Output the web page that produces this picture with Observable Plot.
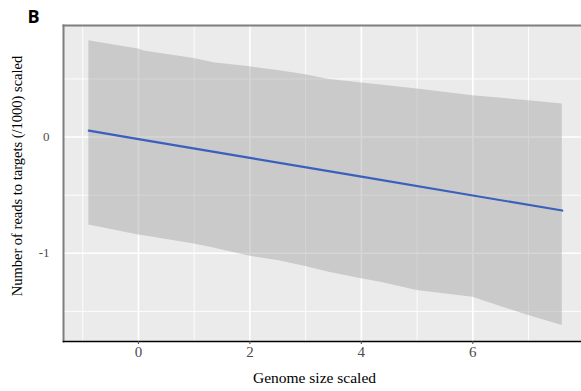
<!DOCTYPE html>
<html>
<head>
<meta charset="utf-8">
<script src="https://cdn.jsdelivr.net/npm/d3@7"></script>
<script src="https://cdn.jsdelivr.net/npm/@observablehq/plot@0.6"></script>
<style>
  body { margin: 0; background: #ffffff; }
  #chart { width: 581px; height: 391px; }
</style>
</head>
<body>
<div id="chart"></div>
<script>
// Ribbon (confidence band)
const bandX     = [-0.89, -0.44, 0, 0.1, 1, 1.35, 2, 2.5, 3, 3.4, 4, 4.35, 5, 6, 7, 7.605];
const bandUpper = [0.829, 0.793, 0.757, 0.740, 0.677, 0.640, 0.605, 0.572, 0.537, 0.497, 0.465, 0.448, 0.414, 0.356, 0.313, 0.285];
const bandLower = [-0.756, -0.799, -0.842, -0.85, -0.919, -0.955, -1.026, -1.063, -1.114, -1.16, -1.220, -1.249, -1.321, -1.378, -1.536, -1.622];

// Fitted line
const lineX = [-0.89, 0, 2, 4, 6, 7.605];
const lineY = [0.055, -0.017, -0.179, -0.341, -0.503, -0.632];

// Axes
const xMajor = [0, 2, 4, 6];
const xMinor = [-1, 1, 3, 5, 7];
const yMajor = [-1, 0];
const yMinor = [-1.5, -0.5, 0.5];
const xDomain = [-1.345, 7.95];
const yDomain = [-1.759, 0.960];
const xTitle = "Genome size scaled";
const yTitle = "Number of reads to targets (/1000) scaled";
const panelTag = "B";

const band = bandX.map((x, i) => ({x, lo: bandLower[i], hi: bandUpper[i]}));
const fit = lineX.map((x, i) => ({x, y: lineY[i]}));

const fmt = d => String(d);

const chart = Plot.plot({
  width: 581,
  height: 391,
  marginLeft: 63,
  marginRight: 0,
  marginTop: 25,
  marginBottom: 50,
  x: {domain: xDomain},
  y: {domain: yDomain},
  style: {background: "#ffffff"},
  marks: [
    Plot.frame({fill: "#ebebeb", stroke: "none"}),
    Plot.ruleX(xMinor, {stroke: "#ffffff", strokeWidth: 0.9}),
    Plot.ruleY(yMinor, {stroke: "#ffffff", strokeWidth: 0.9}),
    Plot.ruleX(xMajor, {stroke: "#ffffff", strokeWidth: 1.6}),
    Plot.ruleY(yMajor, {stroke: "#ffffff", strokeWidth: 1.6}),
    Plot.areaY(band, {x: "x", y1: "lo", y2: "hi", fill: "#999999", fillOpacity: 0.4}),
    Plot.line(fit, {x: "x", y: "y", stroke: "#3a5fbd", strokeWidth: 2.2}),
    Plot.frame({anchor: "left", stroke: "#7f7f7f", strokeWidth: 2}),
    Plot.frame({anchor: "top", stroke: "#7f7f7f", strokeWidth: 2}),
    Plot.frame({anchor: "bottom", stroke: "#000000", strokeWidth: 1.4}),
    Plot.axisX({
      ticks: xMajor, tickFormat: fmt, tickSize: 3, tickPadding: 2, stroke: "#4d4d4d",
      fontSize: 15, color: "#4d4d4d", label: null
    }),
    Plot.axisY({
      ticks: yMajor, tickFormat: fmt, tickSize: 0, tickPadding: 14,
      fontSize: 13, color: "#4d4d4d", label: null
    }),
    Plot.text([xTitle], {
      frameAnchor: "bottom", dx: -8, dy: 36.7, lineAnchor: "middle", textAnchor: "middle",
      fontSize: 15.5, fill: "#000000"
    }),
    Plot.text([yTitle], {
      frameAnchor: "left", dx: -46, dy: -7.5, rotate: -90, lineAnchor: "middle", textAnchor: "middle",
      fontSize: 14.5, fill: "#000000"
    }),
    Plot.text([panelTag], {
      className: "panel-tag",
      frameAnchor: "top-left", dx: -36, dy: -8, lineAnchor: "middle", textAnchor: "start",
      fontSize: 18, fontWeight: "bold", fill: "#000000"
    })
  ]
});
// apply fonts as inline styles
d3.select(chart).selectAll("text").each(function() {
  const inTag = this.closest(".panel-tag");
  this.removeAttribute("font-family");
  this.style.fontFamily = inTag ? "'Open Sans'" : "'Liberation Serif'";
});
d3.select(chart).selectAll("g").each(function() { this.removeAttribute("font-family"); });
chart.removeAttribute("font-family");
chart.style.fontFamily = "'Liberation Serif'";
document.getElementById("chart").appendChild(chart);
</script>
</body>
</html>
